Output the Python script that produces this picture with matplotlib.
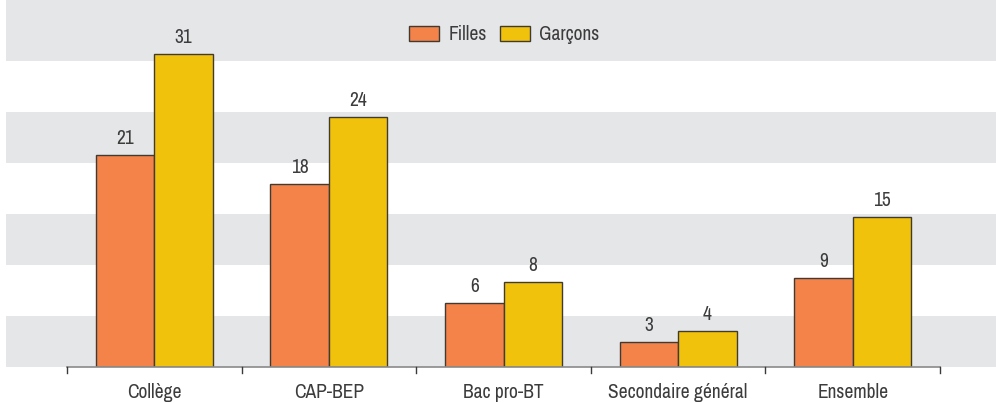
import matplotlib.pyplot as plt
from matplotlib import font_manager
import numpy as np

categories = ["Collège", "CAP-BEP", "Bac pro-BT", "Secondaire général", "Ensemble"]
filles = [20.8, 18.0, 6.3, 2.5, 8.7]
garcons = [30.7, 24.5, 8.3, 3.5, 14.7]
filles_labels = ["21", "18", "6", "3", "9"]
garcons_labels = ["31", "24", "8", "4", "15"]
series_names = ["Filles", "Garçons"]

ORANGE = "#F4834A"
YELLOW = "#F1C20B"
BAND = "#E5E6E8"
EDGE = "#3F3A32"
TEXT = "#3C3C3C"

# prefer a narrow face if one is around
names = sorted({f.name for f in font_manager.fontManager.ttflist})
narrow = [n for n in names if "Narrow" in n or "Condensed" in n]
plt.rcParams['font.family'] = narrow[:1] + ['Roboto', 'DejaVu Sans']
fs = 14 if narrow else 11

fig = plt.figure(figsize=(9.96, 4.03), dpi=100)
ax = fig.add_axes([6 / 996, 36 / 403, 990 / 996, 367 / 403])

x = np.arange(len(categories))
w = 0.335
ymax = 36.0

# grey bands every 5 units
for lo in np.arange(0, 30, 10):
    ax.axhspan(lo, lo + 5, color=BAND, lw=0, zorder=0)
ax.axhspan(30, ymax, color=BAND, lw=0, zorder=0)

b1 = ax.bar(x - w / 2, filles, w, color=ORANGE, edgecolor=EDGE, lw=1, zorder=2, label=series_names[0])
b2 = ax.bar(x + w / 2, garcons, w, color=YELLOW, edgecolor=EDGE, lw=1, zorder=2, label=series_names[1])

for bars, vals, labs in ((b1, filles, filles_labels), (b2, garcons, garcons_labels)):
    for r, v, s in zip(bars, vals, labs):
        ax.annotate(s, (r.get_x() + r.get_width() / 2, v), xytext=(0, 5),
                    textcoords="offset points", ha="center", va="bottom",
                    fontsize=fs, color=TEXT)

# baseline and category separators
ax.plot([-0.5, len(categories) - 0.5], [0, 0], color="#8A8A8A", lw=1.2, zorder=3, clip_on=False)
for b in np.arange(-0.5, len(categories), 1.0):
    ax.plot([b, b], [0, -0.6], color="#3A3A3A", lw=1, clip_on=False, zorder=3)

for i, c in enumerate(categories):
    ax.text(i, -1.55, c, ha="center", va="top", fontsize=fs, color=TEXT)

ax.set_xlim(-0.849, 4.82)
ax.set_ylim(0, ymax)
ax.axis("off")

leg = ax.legend(loc="center", bbox_to_anchor=(0.503, 0.905), ncol=2, frameon=False,
                fontsize=fs, handlelength=1.55, handleheight=0.82, columnspacing=0.67,
                handletextpad=0.46, labelcolor=TEXT)

fig.savefig("out.png", dpi=100)
